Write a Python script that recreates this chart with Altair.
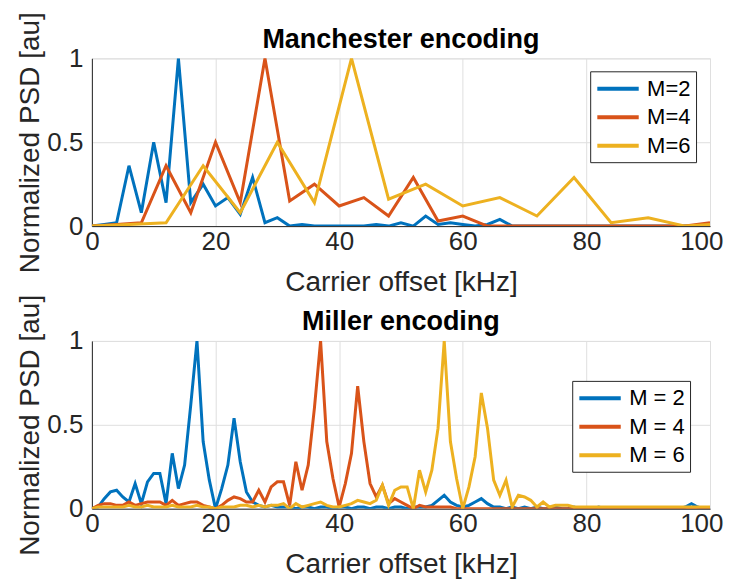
import altair as alt
import pandas as pd

series_top = ["M=2", "M=4", "M=6"]
series_bot = ["M = 2", "M = 4", "M = 6"]
colors = ["#0072BD", "#D95319", "#EDB120"]

# Manchester encoding
man_f2 = [0, 2, 4, 6, 8, 10, 12, 14, 16, 18, 20, 22, 24, 26, 28, 30, 32, 34, 36, 38, 40, 42, 44, 46, 48, 50,
          52, 54, 56, 58, 60, 62, 64, 66, 68, 70, 72, 74, 76, 78, 80, 82, 84, 86, 88, 90, 92, 94, 96, 98, 100]
man_p2 = [0, 0.01, 0.02, 0.36, 0.08, 0.5, 0.14, 1.0, 0.14, 0.25, 0.12, 0.17, 0.07, 0.29, 0.02, 0.05, 0.0, 0.01,
          0.0, 0.0, 0.0, 0.0, 0.0, 0.01, 0.0, 0.02, 0.0, 0.06, 0.01, 0.02, 0.01, 0.0, 0.01, 0.04, 0.0, 0.0,
          0.0, 0.0, 0.0, 0.0, 0.0, 0.0, 0.0, 0.0, 0.0, 0.0, 0.0, 0.0, 0.0, 0.0, 0.0]
man_f4 = [0, 4, 8, 12, 16, 20, 24, 28, 32, 36, 40, 44, 48, 52, 56, 60, 64, 68, 72, 76, 80, 84, 88, 92, 96, 100]
man_p4 = [0, 0.01, 0.02, 0.36, 0.08, 0.5, 0.14, 1.0, 0.15, 0.25, 0.12, 0.17, 0.06, 0.29, 0.03, 0.06, 0.0,
          0.0, 0.0, 0.0, 0.0, 0.0, 0.0, 0.0, 0.0, 0.02]
man_f6 = [0, 6, 12, 18, 24, 30, 36, 42, 48, 54, 60, 66, 72, 78, 84, 90, 96, 100]
man_p6 = [0, 0.01, 0.02, 0.36, 0.08, 0.5, 0.14, 1.0, 0.16, 0.25, 0.12, 0.17, 0.06, 0.29, 0.02, 0.05, 0.0, 0.01]

# Miller encoding (1 kHz steps, 0..100)
mil_f = list(range(0, 101))
mil_p2 = [0, 0.01, 0.06, 0.10, 0.11, 0.07, 0.04, 0.15, 0.03, 0.16, 0.21, 0.21, 0.03, 0.33, 0.12, 0.26, 0.62,
          1.0, 0.40, 0.17, 0.0, 0.12, 0.26, 0.54, 0.28, 0.10, 0.04, 0.02, 0.01, 0.02, 0.01, 0.01, 0.01, 0.0,
          0.01, 0.01, 0.0, 0.01, 0.01, 0.0, 0.01, 0.01, 0.0, 0.01, 0.01, 0.0, 0.01, 0.01, 0.0, 0.01, 0.01,
          0.0, 0.01, 0.01, 0.01, 0.02, 0.05, 0.08, 0.04, 0.02, 0.01, 0.02, 0.04, 0.06, 0.03, 0.01, 0.01,
          0.0, 0.01, 0.0, 0.01, 0.0, 0.01, 0.0, 0.0, 0.01, 0.0, 0.0, 0.01, 0.0, 0.0, 0.0, 0.01, 0.0, 0.0,
          0.0, 0.0, 0.0, 0.0, 0.0, 0.0, 0.0, 0.0, 0.0, 0.0, 0.0, 0.01, 0.03, 0.01, 0.0, 0.0]
mil_p4 = [0, 0.02, 0.03, 0.03, 0.02, 0.02, 0.04, 0.02, 0.03, 0.04, 0.04, 0.04, 0.02, 0.05, 0.02, 0.03, 0.04,
          0.04, 0.02, 0.01, 0.0, 0.02, 0.05, 0.07, 0.06, 0.04, 0.04, 0.11, 0.04, 0.13, 0.16, 0.16, 0.02,
          0.28, 0.11, 0.26, 0.60, 1.0, 0.40, 0.18, 0.01, 0.15, 0.33, 0.73, 0.40, 0.15, 0.07, 0.14, 0.03,
          0.06, 0.04, 0.02, 0.0, 0.02, 0.01, 0.01, 0.01, 0.01, 0.01, 0.0, 0.0, 0.0, 0.0, 0.0, 0.0, 0.0,
          0.0, 0.0, 0.0, 0.0, 0.0, 0.0, 0.0, 0.0, 0.0, 0.0, 0.0, 0.0, 0.0, 0.0, 0.0, 0.0, 0.0, 0.0, 0.0,
          0.0, 0.0, 0.0, 0.0, 0.0, 0.0, 0.0, 0.0, 0.0, 0.0, 0.0, 0.0, 0.0, 0.0, 0.0, 0.0]
mil_p6 = [0, 0.01, 0.01, 0.01, 0.01, 0.01, 0.02, 0.01, 0.01, 0.02, 0.01, 0.01, 0.01, 0.02, 0.01, 0.01, 0.01,
          0.02, 0.01, 0.01, 0.0, 0.01, 0.01, 0.01, 0.02, 0.02, 0.01, 0.02, 0.01, 0.02, 0.02, 0.03, 0.0,
          0.03, 0.01, 0.02, 0.03, 0.04, 0.02, 0.01, 0.01, 0.02, 0.03, 0.05, 0.04, 0.03, 0.05, 0.14, 0.02,
          0.11, 0.13, 0.13, 0.0, 0.23, 0.10, 0.23, 0.48, 1.0, 0.40, 0.18, 0.0, 0.13, 0.31, 0.69, 0.48,
          0.17, 0.08, 0.17, 0.01, 0.08, 0.07, 0.05, 0.01, 0.04, 0.01, 0.02, 0.02, 0.02, 0.01, 0.01, 0.01,
          0.01, 0.01, 0.01, 0.01, 0.01, 0.01, 0.01, 0.01, 0.01, 0.01, 0.01, 0.01, 0.01, 0.01, 0.01, 0.01,
          0.01, 0.01, 0.01, 0.01]


def make_df(pairs, names):
    rows = []
    for i, ((f, p), n) in enumerate(zip(pairs, names)):
        for fi, pi in zip(f, p):
            rows.append({"f": fi, "p": pi, "s": n, "o": i})
    return pd.DataFrame(rows)


df_top = make_df([(man_f2, man_p2), (man_f4, man_p4), (man_f6, man_p6)], series_top)
df_bot = make_df([(mil_f, mil_p2), (mil_f, mil_p4), (mil_f, mil_p6)], series_bot)

W, H = 619, 168


def panel(df, names, title, lx, ly):
    return alt.Chart(df).mark_line(strokeWidth=3, clip=True).encode(
        x=alt.X("f:Q", scale=alt.Scale(domain=[0, 100], nice=False),
                axis=alt.Axis(values=[0, 20, 40, 60, 80, 100], title="Carrier offset [kHz]",
                              labelFlush=False,
                              labelAlign=alt.condition("datum.value == 100", alt.value("right"), alt.value("center")),
                              labelOffset=alt.condition("datum.value == 100", alt.value(13), alt.value(0)))),
        y=alt.Y("p:Q", scale=alt.Scale(domain=[0, 1], nice=False),
                axis=alt.Axis(values=[0, 0.5, 1], format="~g", title="Normalized PSD [au]")),
        color=alt.Color("s:N", scale=alt.Scale(domain=names, range=colors),
                        legend=alt.Legend(orient="none", legendX=lx, legendY=ly, title=None)),
        detail="o:N",
    ).properties(
        width=W, height=H,
        title=alt.TitleParams(title, fontSize=27, fontWeight="bold", anchor="middle", offset=-42,
                              frame="group", color="#000000"),
    )


top = panel(df_top, series_top, "Manchester encoding", 499, 13)
bot = panel(df_bot, series_bot, "Miller encoding", 481, 40)

chart = alt.vconcat(top, bot, spacing=-4).resolve_scale(color="independent").resolve_legend(
    color="independent"
).properties(
    padding={"left": 8, "top": 2, "right": 0, "bottom": 0}
).configure(
    font="Liberation Sans",
).configure_axis(
    labelFont="Liberation Sans", titleFont="Liberation Sans",
    labelFontSize=26, titleFontSize=28, labelColor="#262626", titleColor="#262626",
    titleFontWeight="normal",
    domainColor="#262626", domainWidth=1, gridColor="#dfdfdf", gridWidth=1,
    ticks=False, labelPadding=2, titlePadding=14,
).configure_axisY(labelPadding=9, titlePadding=2).configure_view(
    stroke="#dfdfdf", strokeWidth=1,
).configure_legend(
    labelFont="Liberation Sans", labelFontSize=22, labelColor="#000000",
    symbolType="M-1,0H3", symbolStrokeWidth=4, symbolSize=430,
    strokeColor="#262626", fillColor="white", padding=5, labelOffset=27, rowPadding=4.5,
).configure_title(font="Liberation Sans")

chart.save("out.html", embed_options={"renderer": "svg", "actions": False})
